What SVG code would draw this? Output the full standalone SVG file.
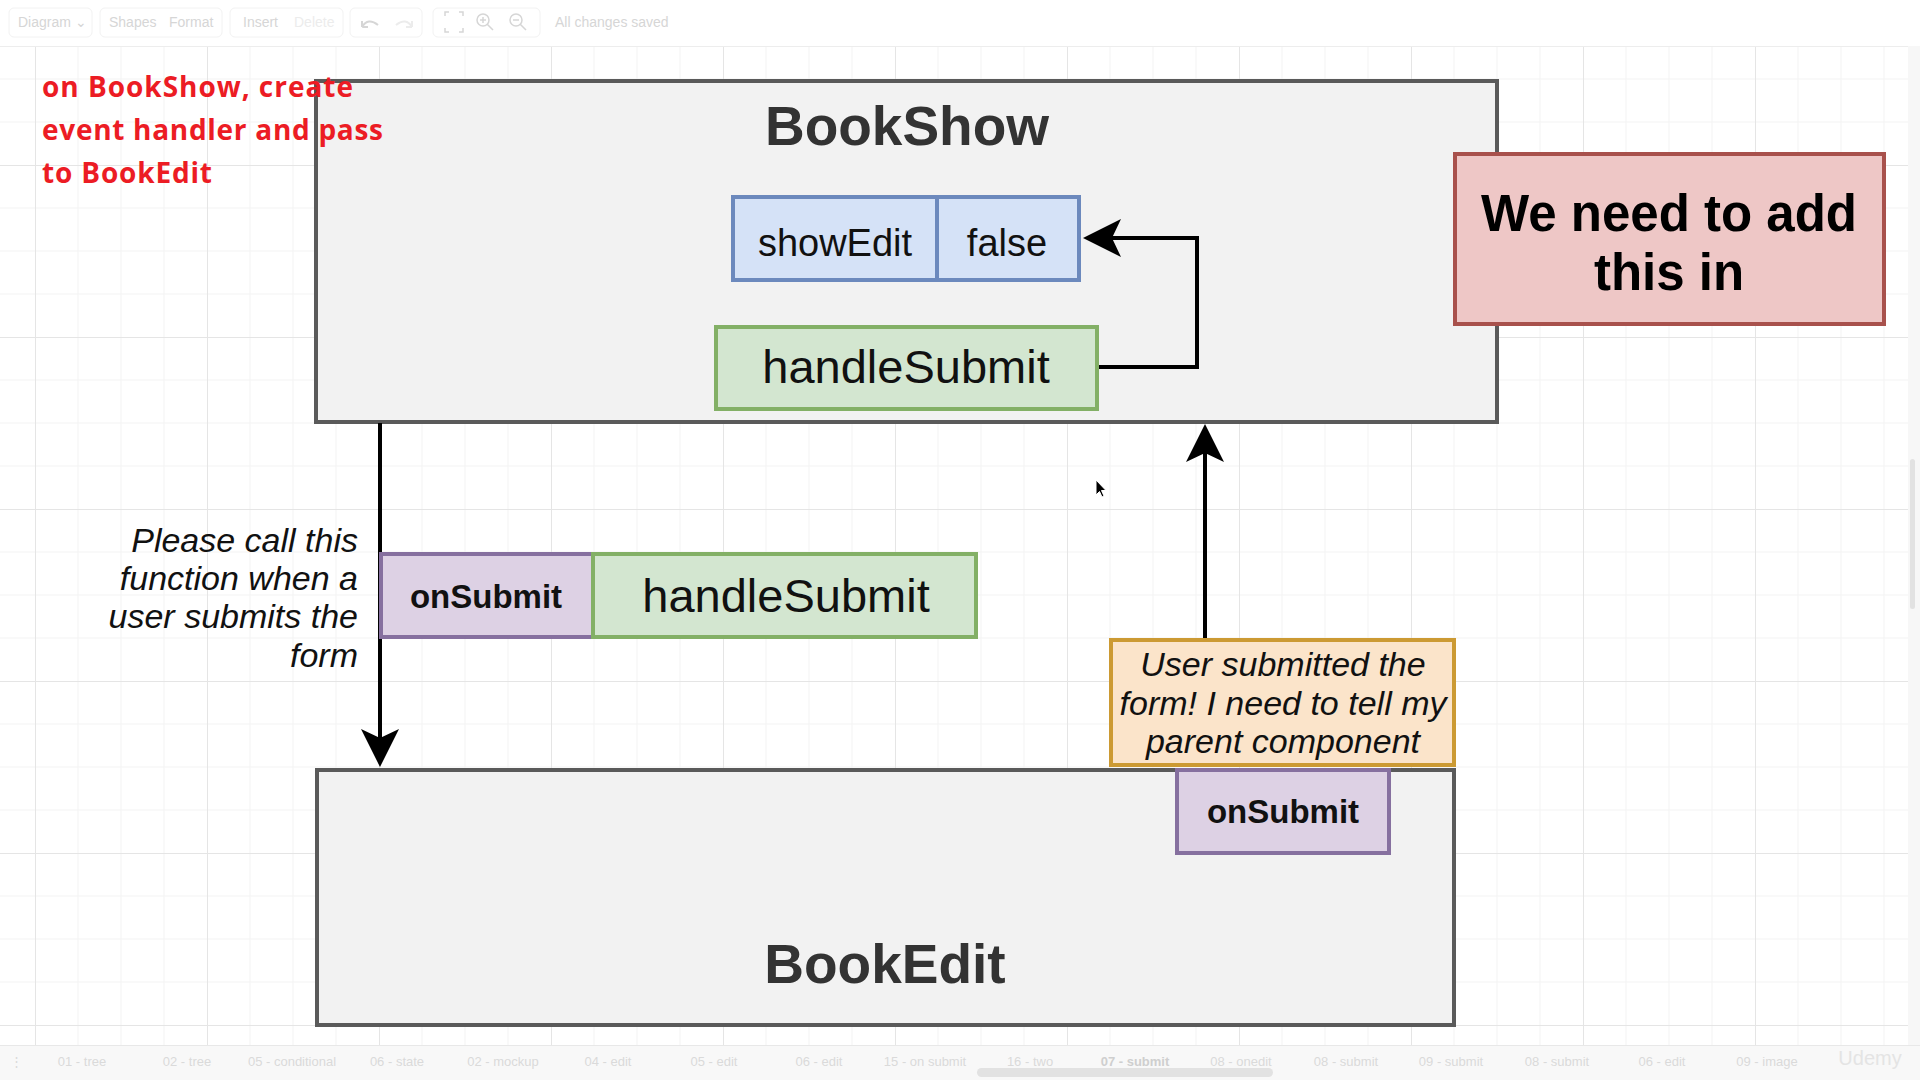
<svg xmlns="http://www.w3.org/2000/svg" width="1920" height="1080" viewBox="0 0 1920 1080">
<defs>
<pattern id="grid" patternUnits="userSpaceOnUse" x="35" y="-7" width="172" height="172">
<path d="M43,0V172M86,0V172M129,0V172M0,43H172M0,86H172M0,129H172" stroke="#f3f3f3" stroke-width="1" fill="none"/>
<path d="M0.5,0V172M0,0.5H172" stroke="#e5e5e5" stroke-width="1" fill="none"/>
</pattern>
<marker id="arr" markerUnits="userSpaceOnUse" viewBox="0 0 38 38" markerWidth="38" markerHeight="38" refX="9" refY="19" orient="auto">
<path d="M0,0 L38,19 L0,38 L9,19 Z" fill="#000"/>
</marker>
</defs>
<style>
.cont{fill:#f2f2f2;stroke:#5a5a5a;stroke-width:4}
.blue{fill:#d5e2f7;stroke:#6c89bd;stroke-width:4}
.green{fill:#d3e6d0;stroke:#83b066;stroke-width:4}
.purple{fill:#ddd1e4;stroke:#86709f;stroke-width:4}
.orange{fill:#fbe4ca;stroke:#cc9a33;stroke-width:4}
.red{fill:#eec7c6;stroke:#a8514c;stroke-width:4}
text{font-family:"Liberation Sans",Arial,sans-serif}
.title{font-weight:bold;font-size:55px;fill:#333;text-anchor:middle}
.lbl{font-size:38px;fill:#111;text-anchor:middle}
.lbl46{font-size:47px;fill:#111;text-anchor:middle}
.bold34{font-weight:bold;font-size:33px;fill:#111;text-anchor:middle}
.ital{font-style:italic;font-size:34px;fill:#111}
.note{font-family:"Open Sans","Noto Sans",sans-serif;font-weight:bold;font-size:28px;fill:#ec1c24}
.ui{font-size:14px;fill:#d6d6d6}
.tab{font-size:13px;fill:#dadada;text-anchor:middle}
.conn{fill:none;stroke:#000;stroke-width:4;marker-end:url(#arr)}
</style>
<rect x="0" y="0" width="1920" height="1080" fill="#ffffff"/>
<rect x="0" y="46" width="1908" height="999" fill="url(#grid)"/>
<line x1="0" y1="46.5" x2="1920" y2="46.5" stroke="#ededed"/>
<g id="toolbar">
<rect x="9" y="8" width="83" height="29" rx="5" fill="none" stroke="#f2f2f2"/>
<rect x="100" y="8" width="122" height="29" rx="5" fill="none" stroke="#f2f2f2"/>
<rect x="230" y="8" width="113" height="29" rx="5" fill="none" stroke="#f2f2f2"/>
<rect x="350" y="8" width="72" height="29" rx="5" fill="none" stroke="#f2f2f2"/>
<rect x="433" y="8" width="107" height="29" rx="5" fill="none" stroke="#f2f2f2"/>
<text class="ui" x="18" y="27">Diagram ⌄</text>
<text class="ui" x="109" y="27">Shapes</text>
<text class="ui" x="169" y="27">Format</text>
<text class="ui" x="243" y="27">Insert</text>
<text class="ui" x="294" y="27" style="fill:#ececec">Delete</text>
<path d="M362,27 q6,-10 16,-2 M362,27 v-6 M362,27 h6" fill="none" stroke="#d6d6d6" stroke-width="2"/>
<path d="M412,27 q-6,-10 -16,-2 M412,27 v-6 M412,27 h-6" fill="none" stroke="#ececec" stroke-width="2"/>
<path d="M445,16 v-4 h4 M459,12 h4 v4 M445,28 v4 h4 M459,32 h4 v-4" fill="none" stroke="#d6d6d6" stroke-width="1.5"/>
<circle cx="483" cy="20" r="6" fill="none" stroke="#d6d6d6" stroke-width="1.5"/>
<path d="M487,24 l6,6 M480,20 h6 M483,17 v6" stroke="#d6d6d6" stroke-width="1.5"/>
<circle cx="516" cy="20" r="6" fill="none" stroke="#d6d6d6" stroke-width="1.5"/>
<path d="M520,24 l6,6 M513,20 h6" stroke="#d6d6d6" stroke-width="1.5"/>
<text class="ui" x="555" y="27">All changes saved</text>
</g>
<g id="BookShow">
<rect class="cont" x="316" y="81" width="1181" height="341"/>
<text class="title" x="907" y="145">BookShow</text>
</g>
<g id="BookEdit">
<rect class="cont" x="317" y="770" width="1137" height="255"/>
<text class="title" x="885" y="983">BookEdit</text>
</g>
<g id="note-add">
<rect class="red" x="1455" y="154" width="429" height="170"/>
<text x="1669" y="231" style="font-weight:bold;font-size:51px;fill:#000;text-anchor:middle">We need to add</text>
<text x="1669" y="290" style="font-weight:bold;font-size:51px;fill:#000;text-anchor:middle">this in</text>
</g>
<g id="state-showEdit">
<rect class="blue" x="733" y="197" width="204" height="83"/>
<text class="lbl" x="835" y="256">showEdit</text>
</g>
<g id="state-false">
<rect class="blue" x="937" y="197" width="142" height="83"/>
<text class="lbl" x="1007" y="256">false</text>
</g>
<g id="handleSubmit-show">
<rect class="green" x="716" y="327" width="381" height="82"/>
<text class="lbl46" x="906" y="383">handleSubmit</text>
</g>
<g id="instructions">
<text class="note" x="42" y="97" textLength="311" lengthAdjust="spacing">on BookShow, create</text>
<text class="note" x="42" y="140" textLength="341" lengthAdjust="spacing">event handler and pass</text>
<text class="note" x="42" y="183" textLength="170" lengthAdjust="spacing">to BookEdit</text>
</g>
<g id="connectors">
<path class="conn" d="M1099,367 H1197 V238 H1112"/>
<path class="conn" d="M380,423 V738"/>
<path class="conn" d="M1205,638 V453"/>
</g>
<g id="please-label">
<text class="ital" x="358" y="552" text-anchor="end">Please call this</text>
<text class="ital" x="358" y="590" text-anchor="end">function when a</text>
<text class="ital" x="358" y="628" text-anchor="end">user submits the</text>
<text class="ital" x="358" y="667" text-anchor="end">form</text>
</g>
<g id="prop-onSubmit">
<rect class="purple" x="381" y="554" width="212" height="83"/>
<text class="bold34" x="486" y="608">onSubmit</text>
</g>
<g id="prop-handleSubmit">
<rect class="green" x="593" y="554" width="383" height="83"/>
<text class="lbl46" x="786" y="612">handleSubmit</text>
</g>
<g id="edit-onSubmit">
<rect class="purple" x="1177" y="770" width="212" height="83"/>
<text class="bold34" x="1283" y="823">onSubmit</text>
</g>
<g id="note-submitted">
<rect class="orange" x="1111" y="640" width="343" height="125"/>
<text class="ital" x="1283" y="676" text-anchor="middle">User submitted the</text>
<text class="ital" x="1283" y="715" text-anchor="middle">form! I need to tell my</text>
<text class="ital" x="1283" y="753" text-anchor="middle">parent component</text>
</g>
<path id="cursor" d="M1096,480 L1096,495 L1099.5,491.5 L1102,497 L1104,496 L1101.5,490.5 L1106,490.5 Z" fill="#000" stroke="#fff" stroke-width="1"/>
<rect x="1908" y="46" width="12" height="999" fill="#f7f7f7"/>
<rect x="1910" y="459" width="5" height="150" rx="2.5" fill="#e2e2e2"/>
<g id="tabbar">
<rect x="0" y="1045" width="1920" height="35" fill="#f8f8f8"/>
<line x1="0" y1="1045.5" x2="1920" y2="1045.5" stroke="#e8e8e8"/>
<text class="tab" x="16" y="1066">⋮</text>
<text class="tab" x="82" y="1066">01 - tree</text>
<text class="tab" x="187" y="1066">02 - tree</text>
<text class="tab" x="292" y="1066">05 - conditional</text>
<text class="tab" x="397" y="1066">06 - state</text>
<text class="tab" x="503" y="1066">02 - mockup</text>
<text class="tab" x="608" y="1066">04 - edit</text>
<text class="tab" x="714" y="1066">05 - edit</text>
<text class="tab" x="819" y="1066">06 - edit</text>
<text class="tab" x="925" y="1066">15 - on submit</text>
<text class="tab" x="1030" y="1066">16 - two</text>
<text class="tab" x="1135" y="1066" style="font-weight:bold;fill:#cfcfcf">07 - submit</text>
<text class="tab" x="1241" y="1066">08 - onedit</text>
<text class="tab" x="1346" y="1066">08 - submit</text>
<text class="tab" x="1451" y="1066">09 - submit</text>
<text class="tab" x="1557" y="1066">08 - submit</text>
<text class="tab" x="1662" y="1066">06 - edit</text>
<text class="tab" x="1767" y="1066">09 - image</text>
<rect x="977" y="1068" width="296" height="9" rx="4.5" fill="#e2e2e2"/>
<text x="1870" y="1065" style="font-size:20px;fill:#e4e4e4;text-anchor:middle">Udemy</text>
</g>
</svg>
